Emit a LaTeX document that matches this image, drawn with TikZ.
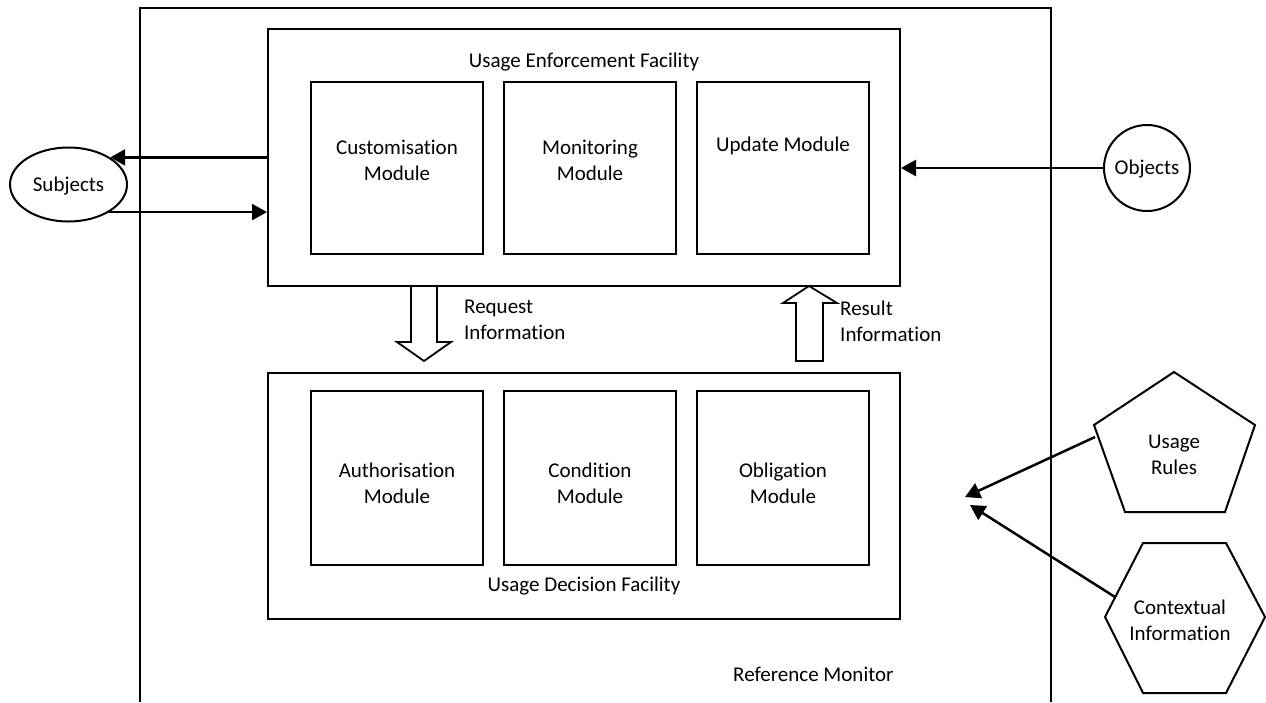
\documentclass[tikz,border=0pt]{standalone}
\usepackage{fontspec}
\setmainfont{Carlito}[Ligatures=NoCommon]
\usetikzlibrary{shapes.geometric,arrows.meta,calc}
\begin{document}
\begin{tikzpicture}[x=1pt,y=-1pt,
  every node/.style={font=\fontsize{21}{26}\selectfont},
  frame/.style={line width=2.2pt},
  facility/.style={draw,line width=2pt,rectangle,inner sep=0pt,minimum width=632pt},
  module/.style={draw,line width=2pt,rectangle,inner sep=0pt,minimum width=172pt},
  modtext/.style={align=center,inner sep=0pt},
  flow/.style={line width=2.5pt,-{Triangle[length=15pt,width=16pt]}},
  hollow/.style={line width=1.8pt,fill=white,line join=miter},
  source/.style={draw,line width=2pt,inner sep=0pt}]
\useasboundingbox (0,0) rectangle (1266,702);

% reference monitor frame (open at the bottom)
\draw[frame] (140,702) -- (140,8) -- (1051,8) -- (1051,702);
\node[anchor=base west,inner sep=0pt] (rmlabel) at (733,681) {Reference Monitor};

% usage enforcement facility
\node[facility,minimum height=257pt] (uef) at (584,157.5) {};
\node[anchor=base,inner sep=0pt] (ueftitle) at (584,67) {Usage Enforcement Facility};
\node[module,minimum height=172pt] (cust) at (397,168) {};
\node[module,minimum height=172pt] (moni) at (590,168) {};
\node[module,minimum height=172pt] (upd)  at (783,168) {};
\node[modtext] (custt) at (397,160) {Customisation\\Module};
\node[modtext] (monit) at (590,160) {Monitoring\\Module};
\node[modtext] (updt)  at (783,146) {Update Module};

% usage decision facility
\node[facility,minimum height=246pt] (udf) at (584,496) {};
\node[anchor=base,inner sep=0pt] (udftitle) at (584,591) {Usage Decision Facility};
\node[module,minimum height=174pt] (auth) at (397,478) {};
\node[module,minimum height=174pt] (cond) at (590,478) {};
\node[module,minimum height=174pt] (obl)  at (783,478) {};
\node[modtext] (autht) at (397,483) {Authorisation\\Module};
\node[modtext] (condt) at (590,483) {Condition\\Module};
\node[modtext] (oblt)  at (783,483) {Obligation\\Module};

% request / result block arrows between the facilities
\draw[hollow] (411,286) -- (437,286) -- (437,342) -- (451,342) -- (424,361)
  -- (397,342) -- (411,342) -- cycle;
\node[anchor=base west,inner sep=0pt] (reqt) at (464,313) {Request};
\node[anchor=base west,inner sep=0pt] (reqt2) at (464,339) {Information};
\draw[hollow] (796,361) -- (823,361) -- (823,303) -- (837,303) -- (809,286)
  -- (783,303) -- (796,303) -- cycle;
\node[anchor=base west,inner sep=0pt] (rest) at (840,315) {Result};
\node[anchor=base west,inner sep=0pt] (rest2) at (840,341) {Information};

% subjects and objects
\node[source,ellipse,minimum width=117pt,minimum height=74pt] (subj) at (68.5,184.5) {};
\node[inner sep=0pt] (subjt) at (68.5,186) {Subjects};
\node[source,circle,minimum size=86pt] (obj) at (1147,168) {};
\node[inner sep=0pt] (objt) at (1147,169) {Objects};
\draw[flow] (subj.33 -| uef.west) -- (subj.33);
\draw[flow] (subj.-34) -- (subj.-34 -| uef.west);
\draw[flow] (obj.west) -- (obj.west -| uef.east);

% usage rules and contextual information
\draw[line width=2pt,line join=miter] (1174,372) -- (1255,425) -- (1225,512)
  -- (1125,512) -- (1094,425) -- cycle;
\node[modtext] (rules) at (1174,455) {Usage\\Rules};
\draw[line width=2pt,line join=miter] (1143,543) -- (1226,543) -- (1265,617)
  -- (1226,693) -- (1143,693) -- (1105,617) -- cycle;
\node[modtext] (ctx) at (1180,620) {Contextual\\Information};
\coordinate (rulesout) at (1095,437);
\coordinate (ctxout) at (1115,597);
\coordinate (rulestip) at (965,497);
\coordinate (ctxtip) at (970,505);
\draw[flow] (rulesout) -- (rulestip);
\draw[flow] (ctxout) -- (ctxtip);
\end{tikzpicture}
\end{document}
